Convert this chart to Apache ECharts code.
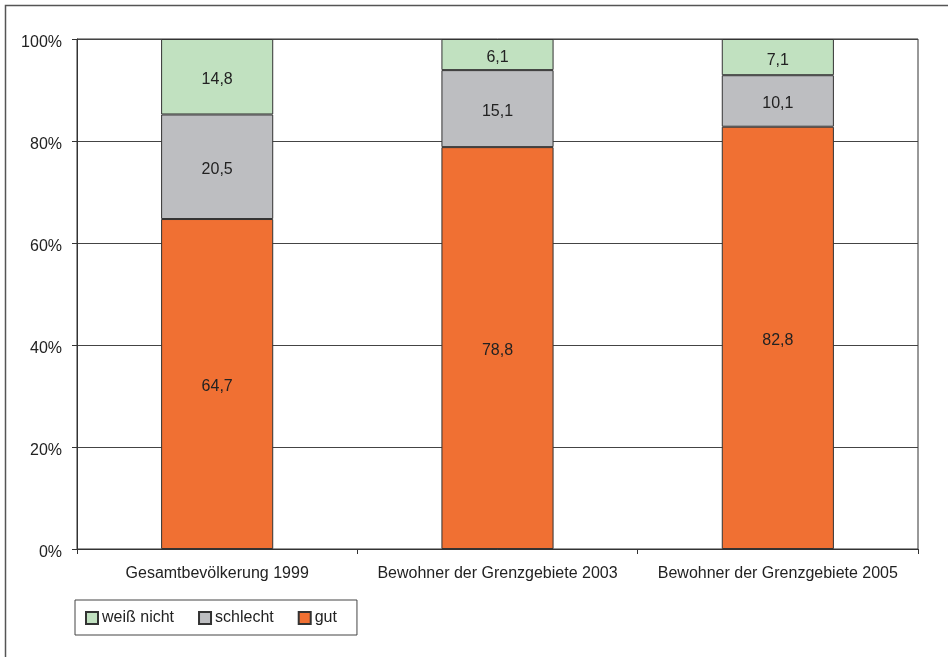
<!DOCTYPE html>
<html><head><meta charset="utf-8">
<script src="https://cdn.jsdelivr.net/npm/echarts@6/dist/echarts.min.js"></script>
<style>html,body{margin:0;padding:0;background:#fff}#c{width:948px;height:657px}</style>
</head><body><div id="c"></div>
<script>
const categories = ['Gesamtbevölkerung 1999', 'Bewohner der Grenzgebiete 2003', 'Bewohner der Grenzgebiete 2005'];
const gut = [64.7, 78.8, 82.8];
const schlecht = [20.5, 15.1, 10.1];
const weissNicht = [14.8, 6.1, 7.1];
const legendOrder = ['weiß nicht', 'schlecht', 'gut'];

const chart = echarts.init(document.getElementById('c'), null, {renderer: 'canvas'});
const font = 'Liberation Sans, Arial, sans-serif';
const lbl = {show: true, position: 'inside', offset: [0, 3], color: '#222', fontSize: 16, fontFamily: font,
  formatter: p => String(p.value).replace('.', ',')};
const mk = (name, data, color) => ({
  name, type: 'bar', stack: 'a', data, barWidth: '40%',
  itemStyle: {color, borderColor: '#333', borderWidth: 1},
  label: lbl, emphasis: {disabled: true}
});
chart.setOption({
  animation: false,
  textStyle: {fontFamily: font},
  graphic: [
    {type: 'polyline', shape: {points: [[5.5, 660], [5.5, 5.5], [960, 5.5]]},
     style: {stroke: '#555', lineWidth: 1.5, fill: null}}
  ],
  grid: {left: 77, right: 30, top: 39, bottom: 108, show: true, borderColor: '#333', borderWidth: 1},
  legend: {
    data: legendOrder, left: 75, top: 600, orient: 'horizontal',
    padding: [10, 20, 9, 10], itemGap: 24, itemWidth: 12, itemHeight: 12,
    borderColor: '#444', borderWidth: 1, icon: 'rect',
    textStyle: {fontSize: 16, color: '#222', fontFamily: font, padding: [2, 0, 0, -1]}
  },
  xAxis: {
    type: 'category', data: categories,
    axisLine: {lineStyle: {color: '#333', width: 1}},
    axisTick: {show: true, length: 5, lineStyle: {color: '#333'}},
    axisLabel: {fontSize: 16, color: '#222', margin: 17, fontFamily: font, interval: 0}
  },
  yAxis: {
    type: 'value', min: 0, max: 100, interval: 20,
    axisLine: {show: true, lineStyle: {color: '#333'}},
    axisTick: {show: true, length: 5, lineStyle: {color: '#333'}},
    splitLine: {lineStyle: {color: '#444', width: 1}},
    axisLabel: {color: '#222', margin: 15, fontFamily: font,
      formatter: v => '{a|' + v + '%}',
      rich: {a: {fontSize: 16, color: '#222', fontFamily: font, padding: [8, 0, 0, 0]}}}
  },
  series: [
    mk('gut', gut, '#f07033'),
    mk('schlecht', schlecht, '#bdbec1'),
    mk('weiß nicht', weissNicht, '#c1e1c0')
  ]
});
</script></body></html>
